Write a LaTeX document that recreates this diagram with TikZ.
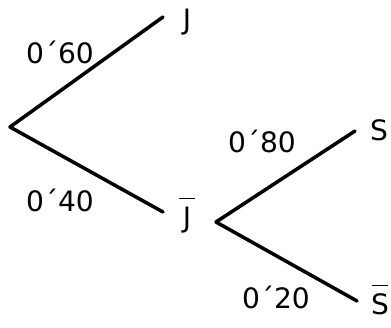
\documentclass[tikz,border=0pt]{standalone}
\usepackage{fontspec}
\setmainfont{DejaVu Sans}
\usetikzlibrary{positioning}

\newcommand{\negbar}[1]{$\overline{\mbox{\rule{0pt}{0.95em}\makebox[0.6em]{#1}}}$}

\begin{document}
\begin{tikzpicture}[x=0.02cm,y=0.02cm,
		every node/.style={font=\fontsize{16}{18}\selectfont, inner sep=1pt},
		branch/.style={line width=2pt, line cap=round}]
		\useasboundingbox (0,0) rectangle (391,327);
		
		% First stage
		\coordinate (root) at (10,200);
		\coordinate (jend) at (163,310);
		\coordinate (njend) at (163,115);
		\node (J) at (187,305) {J};
		\node (nJ) at (187,112) {\negbar{J}};
		\node (pJ) at (60,275) {0´60};
		\node (pnJ) at (60,127) {0´40};
		\draw[branch] (root) -- (jend);
		\draw[branch] (root) -- (njend);
		
		% Second stage
		\coordinate (sroot) at (216,105);
		\coordinate (send) at (355,196);
		\coordinate (nsend) at (357,26);
		\node (S) at (379,197) {S};
		\node (nS) at (380,27) {\negbar{S}};
		\node (pS) at (262,186) {0´80};
		\node (pnS) at (276,30) {0´20};
		\draw[branch] (sroot) -- (send);
		\draw[branch] (sroot) -- (nsend);
		
	\end{tikzpicture}
\end{document}
